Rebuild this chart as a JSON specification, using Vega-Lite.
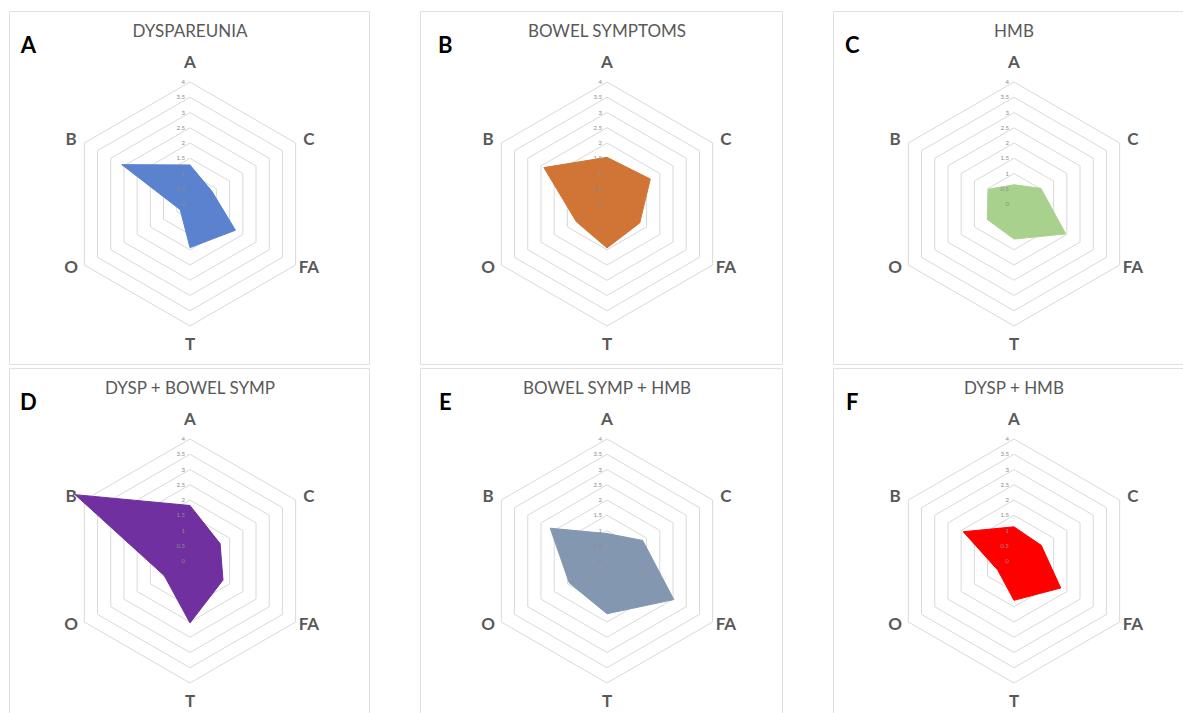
{
  "$schema": "https://vega.github.io/schema/vega-lite/v6.json",
  "padding": {"left": 8, "top": 10, "right": 0, "bottom": 0},
  "background": "white",
  "config": {"view": {"stroke": "#e0e0e0", "strokeWidth": 1}},
  "datasets": {
    "panels": [
      {"panel": "A", "title": "DYSPAREUNIA"},
      {"panel": "B", "title": "BOWEL SYMPTOMS"},
      {"panel": "C", "title": "HMB"},
      {"panel": "D", "title": "DYSP + BOWEL SYMP"},
      {"panel": "E", "title": "BOWEL SYMP + HMB"},
      {"panel": "F", "title": "DYSP + HMB"}
    ],
    "axes": [{"axis": "A"}, {"axis": "C"}, {"axis": "FA"}, {"axis": "T"}, {"axis": "O"}, {"axis": "B"}],
    "rings": [
      {"axis": "A", "levels": [0.5, 1, 1.5, 2, 2.5, 3, 3.5, 4]},
      {"axis": "C", "levels": [0.5, 1, 1.5, 2, 2.5, 3, 3.5, 4]},
      {"axis": "FA", "levels": [0.5, 1, 1.5, 2, 2.5, 3, 3.5, 4]},
      {"axis": "T", "levels": [0.5, 1, 1.5, 2, 2.5, 3, 3.5, 4]},
      {"axis": "O", "levels": [0.5, 1, 1.5, 2, 2.5, 3, 3.5, 4]},
      {"axis": "B", "levels": [0.5, 1, 1.5, 2, 2.5, 3, 3.5, 4]}
    ],
    "ticks": [{"t": "0", "v": 0}, {"t": "0.5", "v": 0.5}, {"t": "1", "v": 1}, {"t": "1.5", "v": 1.5}, {"t": "2", "v": 2}, {"t": "2.5", "v": 2.5}, {"t": "3", "v": 3}, {"t": "3.5", "v": 3.5}, {"t": "4", "v": 4}],
    "scores": [
      {"panel": "A", "axis": "A", "value": 1.28},
      {"panel": "A", "axis": "C", "value": 0.83},
      {"panel": "A", "axis": "FA", "value": 1.72},
      {"panel": "A", "axis": "T", "value": 1.43},
      {"panel": "A", "axis": "O", "value": 0.37},
      {"panel": "A", "axis": "B", "value": 2.58},
      {"panel": "B", "axis": "A", "value": 1.53},
      {"panel": "B", "axis": "C", "value": 1.64},
      {"panel": "B", "axis": "FA", "value": 1.24},
      {"panel": "B", "axis": "T", "value": 1.44},
      {"panel": "B", "axis": "O", "value": 1.16},
      {"panel": "B", "axis": "B", "value": 2.39},
      {"panel": "C", "axis": "A", "value": 0.63},
      {"panel": "C", "axis": "C", "value": 1.02},
      {"panel": "C", "axis": "FA", "value": 1.96},
      {"panel": "C", "axis": "T", "value": 1.15},
      {"panel": "C", "axis": "O", "value": 1.01},
      {"panel": "C", "axis": "B", "value": 0.97},
      {"panel": "D", "axis": "A", "value": 1.82},
      {"panel": "D", "axis": "C", "value": 1.14},
      {"panel": "D", "axis": "FA", "value": 1.25},
      {"panel": "D", "axis": "T", "value": 2.03},
      {"panel": "D", "axis": "O", "value": 0.97},
      {"panel": "D", "axis": "B", "value": 4.35},
      {"panel": "E", "axis": "A", "value": 0.9},
      {"panel": "E", "axis": "C", "value": 1.35},
      {"panel": "E", "axis": "FA", "value": 2.53},
      {"panel": "E", "axis": "T", "value": 1.73},
      {"panel": "E", "axis": "O", "value": 1.43},
      {"panel": "E", "axis": "B", "value": 2.15},
      {"panel": "F", "axis": "A", "value": 1.12},
      {"panel": "F", "axis": "C", "value": 1.03},
      {"panel": "F", "axis": "FA", "value": 1.77},
      {"panel": "F", "axis": "T", "value": 1.29},
      {"panel": "F", "axis": "O", "value": 0.61},
      {"panel": "F", "axis": "B", "value": 1.92}
    ]
  },
  "columns": 3,
  "spacing": {"row": 2, "column": 49},
  "concat": [
    {
      "width": 360, "height": 353,
      "encoding": {
        "x": {"field": "x", "type": "quantitative", "scale": {"domain": [-5.934, 5.869], "nice": false, "zero": false}, "axis": null},
        "y": {"field": "y", "type": "quantitative", "scale": {"domain": [-5.246, 6.328], "nice": false, "zero": false}, "axis": null}
      },
      "layer": [
        {"data": {"name": "rings"}, "transform": [{"flatten": ["levels"], "as": ["level"]}, {"calculate": "indexof(['A','C','FA','T','O','B'], datum.axis)*PI/3", "as": "ang"}, {"calculate": "datum.level*sin(datum.ang)", "as": "x"}, {"calculate": "datum.level*cos(datum.ang)", "as": "y"}],
         "mark": {"type": "line", "interpolate": "linear-closed", "stroke": "#d9d9d9", "strokeWidth": 1},
         "encoding": {"detail": {"field": "level", "type": "nominal"}, "order": {"field": "ang", "type": "quantitative"}}},
        {"data": {"name": "scores"}, "transform": [{"filter": "datum.panel === 'A'"}, {"calculate": "indexof(['A','C','FA','T','O','B'], datum.axis)*PI/3", "as": "ang"}, {"calculate": "datum.value*sin(datum.ang)", "as": "x"}, {"calculate": "datum.value*cos(datum.ang)", "as": "y"}],
         "mark": {"type": "line", "interpolate": "linear-closed", "fill": "#5a82cf", "stroke": "#5a82cf", "strokeWidth": 1},
         "encoding": {"order": {"field": "ang", "type": "quantitative"}}},
        {"data": {"name": "ticks"}, "transform": [{"calculate": "0", "as": "x"}, {"calculate": "datum.v", "as": "y"}],
         "mark": {"type": "text", "align": "right", "baseline": "middle", "dx": -5, "fontSize": 6, "font": "Lato", "color": "#8c8c8c"},
         "encoding": {"text": {"field": "t", "type": "nominal"}}},
        {"data": {"name": "axes"}, "transform": [{"calculate": "indexof(['A','C','FA','T','O','B'], datum.axis)*PI/3", "as": "ang"}, {"calculate": "4.5*sin(datum.ang)", "as": "x"}, {"calculate": "cos(datum.ang)*(abs(cos(datum.ang))>0.9?4.63:4.2)", "as": "y"}],
         "mark": {"type": "text", "font": "Lato", "fontWeight": "bold", "fontSize": 17, "color": "#595959", "baseline": "middle", "align": "center"},
         "encoding": {"text": {"field": "axis", "type": "nominal"}}},
        {"data": {"name": "panels"}, "transform": [{"filter": "datum.panel === 'A'"}, {"calculate": "0", "as": "x"}, {"calculate": "5.65", "as": "y"}],
         "mark": {"type": "text", "font": "Lato", "fontSize": 17, "color": "#595959", "baseline": "middle", "align": "center"},
         "encoding": {"text": {"field": "title", "type": "nominal"}}},
        {"data": {"name": "panels"}, "transform": [{"filter": "datum.panel === 'A'"}, {"calculate": "-5.3", "as": "x"}, {"calculate": "5.18", "as": "y"}],
         "mark": {"type": "text", "font": "Lato", "fontWeight": "bold", "fontSize": 22, "color": "#000000", "baseline": "middle", "align": "center"},
         "encoding": {"text": {"field": "panel", "type": "nominal"}}}
      ]
    },
    {
      "width": 362, "height": 353,
      "encoding": {
        "x": {"field": "x", "type": "quantitative", "scale": {"domain": [-6.131, 5.738], "nice": false, "zero": false}, "axis": null},
        "y": {"field": "y", "type": "quantitative", "scale": {"domain": [-5.246, 6.328], "nice": false, "zero": false}, "axis": null}
      },
      "layer": [
        {"data": {"name": "rings"}, "transform": [{"flatten": ["levels"], "as": ["level"]}, {"calculate": "indexof(['A','C','FA','T','O','B'], datum.axis)*PI/3", "as": "ang"}, {"calculate": "datum.level*sin(datum.ang)", "as": "x"}, {"calculate": "datum.level*cos(datum.ang)", "as": "y"}],
         "mark": {"type": "line", "interpolate": "linear-closed", "stroke": "#d9d9d9", "strokeWidth": 1},
         "encoding": {"detail": {"field": "level", "type": "nominal"}, "order": {"field": "ang", "type": "quantitative"}}},
        {"data": {"name": "scores"}, "transform": [{"filter": "datum.panel === 'B'"}, {"calculate": "indexof(['A','C','FA','T','O','B'], datum.axis)*PI/3", "as": "ang"}, {"calculate": "datum.value*sin(datum.ang)", "as": "x"}, {"calculate": "datum.value*cos(datum.ang)", "as": "y"}],
         "mark": {"type": "line", "interpolate": "linear-closed", "fill": "#d07536", "stroke": "#d07536", "strokeWidth": 1},
         "encoding": {"order": {"field": "ang", "type": "quantitative"}}},
        {"data": {"name": "ticks"}, "transform": [{"calculate": "0", "as": "x"}, {"calculate": "datum.v", "as": "y"}],
         "mark": {"type": "text", "align": "right", "baseline": "middle", "dx": -5, "fontSize": 6, "font": "Lato", "color": "#8c8c8c"},
         "encoding": {"text": {"field": "t", "type": "nominal"}}},
        {"data": {"name": "axes"}, "transform": [{"calculate": "indexof(['A','C','FA','T','O','B'], datum.axis)*PI/3", "as": "ang"}, {"calculate": "4.5*sin(datum.ang)", "as": "x"}, {"calculate": "cos(datum.ang)*(abs(cos(datum.ang))>0.9?4.63:4.2)", "as": "y"}],
         "mark": {"type": "text", "font": "Lato", "fontWeight": "bold", "fontSize": 17, "color": "#595959", "baseline": "middle", "align": "center"},
         "encoding": {"text": {"field": "axis", "type": "nominal"}}},
        {"data": {"name": "panels"}, "transform": [{"filter": "datum.panel === 'B'"}, {"calculate": "0", "as": "x"}, {"calculate": "5.65", "as": "y"}],
         "mark": {"type": "text", "font": "Lato", "fontSize": 17, "color": "#595959", "baseline": "middle", "align": "center"},
         "encoding": {"text": {"field": "title", "type": "nominal"}}},
        {"data": {"name": "panels"}, "transform": [{"filter": "datum.panel === 'B'"}, {"calculate": "-5.3", "as": "x"}, {"calculate": "5.18", "as": "y"}],
         "mark": {"type": "text", "font": "Lato", "fontWeight": "bold", "fontSize": 22, "color": "#000000", "baseline": "middle", "align": "center"},
         "encoding": {"text": {"field": "panel", "type": "nominal"}}}
      ]
    },
    {
      "width": 360, "height": 353,
      "encoding": {
        "x": {"field": "x", "type": "quantitative", "scale": {"domain": [-5.934, 5.869], "nice": false, "zero": false}, "axis": null},
        "y": {"field": "y", "type": "quantitative", "scale": {"domain": [-5.246, 6.328], "nice": false, "zero": false}, "axis": null}
      },
      "layer": [
        {"data": {"name": "rings"}, "transform": [{"flatten": ["levels"], "as": ["level"]}, {"calculate": "indexof(['A','C','FA','T','O','B'], datum.axis)*PI/3", "as": "ang"}, {"calculate": "datum.level*sin(datum.ang)", "as": "x"}, {"calculate": "datum.level*cos(datum.ang)", "as": "y"}],
         "mark": {"type": "line", "interpolate": "linear-closed", "stroke": "#d9d9d9", "strokeWidth": 1},
         "encoding": {"detail": {"field": "level", "type": "nominal"}, "order": {"field": "ang", "type": "quantitative"}}},
        {"data": {"name": "scores"}, "transform": [{"filter": "datum.panel === 'C'"}, {"calculate": "indexof(['A','C','FA','T','O','B'], datum.axis)*PI/3", "as": "ang"}, {"calculate": "datum.value*sin(datum.ang)", "as": "x"}, {"calculate": "datum.value*cos(datum.ang)", "as": "y"}],
         "mark": {"type": "line", "interpolate": "linear-closed", "fill": "#a9d18e", "stroke": "#a9d18e", "strokeWidth": 1},
         "encoding": {"order": {"field": "ang", "type": "quantitative"}}},
        {"data": {"name": "ticks"}, "transform": [{"calculate": "0", "as": "x"}, {"calculate": "datum.v", "as": "y"}],
         "mark": {"type": "text", "align": "right", "baseline": "middle", "dx": -5, "fontSize": 6, "font": "Lato", "color": "#8c8c8c"},
         "encoding": {"text": {"field": "t", "type": "nominal"}}},
        {"data": {"name": "axes"}, "transform": [{"calculate": "indexof(['A','C','FA','T','O','B'], datum.axis)*PI/3", "as": "ang"}, {"calculate": "4.5*sin(datum.ang)", "as": "x"}, {"calculate": "cos(datum.ang)*(abs(cos(datum.ang))>0.9?4.63:4.2)", "as": "y"}],
         "mark": {"type": "text", "font": "Lato", "fontWeight": "bold", "fontSize": 17, "color": "#595959", "baseline": "middle", "align": "center"},
         "encoding": {"text": {"field": "axis", "type": "nominal"}}},
        {"data": {"name": "panels"}, "transform": [{"filter": "datum.panel === 'C'"}, {"calculate": "0", "as": "x"}, {"calculate": "5.65", "as": "y"}],
         "mark": {"type": "text", "font": "Lato", "fontSize": 17, "color": "#595959", "baseline": "middle", "align": "center"},
         "encoding": {"text": {"field": "title", "type": "nominal"}}},
        {"data": {"name": "panels"}, "transform": [{"filter": "datum.panel === 'C'"}, {"calculate": "-5.3", "as": "x"}, {"calculate": "5.18", "as": "y"}],
         "mark": {"type": "text", "font": "Lato", "fontWeight": "bold", "fontSize": 22, "color": "#000000", "baseline": "middle", "align": "center"},
         "encoding": {"text": {"field": "panel", "type": "nominal"}}}
      ]
    },
    {
      "width": 360, "height": 353,
      "encoding": {
        "x": {"field": "x", "type": "quantitative", "scale": {"domain": [-5.934, 5.869], "nice": false, "zero": false}, "axis": null},
        "y": {"field": "y", "type": "quantitative", "scale": {"domain": [-5.246, 6.328], "nice": false, "zero": false}, "axis": null}
      },
      "layer": [
        {"data": {"name": "rings"}, "transform": [{"flatten": ["levels"], "as": ["level"]}, {"calculate": "indexof(['A','C','FA','T','O','B'], datum.axis)*PI/3", "as": "ang"}, {"calculate": "datum.level*sin(datum.ang)", "as": "x"}, {"calculate": "datum.level*cos(datum.ang)", "as": "y"}],
         "mark": {"type": "line", "interpolate": "linear-closed", "stroke": "#d9d9d9", "strokeWidth": 1},
         "encoding": {"detail": {"field": "level", "type": "nominal"}, "order": {"field": "ang", "type": "quantitative"}}},
        {"data": {"name": "scores"}, "transform": [{"filter": "datum.panel === 'D'"}, {"calculate": "indexof(['A','C','FA','T','O','B'], datum.axis)*PI/3", "as": "ang"}, {"calculate": "datum.value*sin(datum.ang)", "as": "x"}, {"calculate": "datum.value*cos(datum.ang)", "as": "y"}],
         "mark": {"type": "line", "interpolate": "linear-closed", "fill": "#7030a0", "stroke": "#7030a0", "strokeWidth": 1},
         "encoding": {"order": {"field": "ang", "type": "quantitative"}}},
        {"data": {"name": "ticks"}, "transform": [{"calculate": "0", "as": "x"}, {"calculate": "datum.v", "as": "y"}],
         "mark": {"type": "text", "align": "right", "baseline": "middle", "dx": -5, "fontSize": 6, "font": "Lato", "color": "#8c8c8c"},
         "encoding": {"text": {"field": "t", "type": "nominal"}}},
        {"data": {"name": "axes"}, "transform": [{"calculate": "indexof(['A','C','FA','T','O','B'], datum.axis)*PI/3", "as": "ang"}, {"calculate": "4.5*sin(datum.ang)", "as": "x"}, {"calculate": "cos(datum.ang)*(abs(cos(datum.ang))>0.9?4.63:4.2)", "as": "y"}],
         "mark": {"type": "text", "font": "Lato", "fontWeight": "bold", "fontSize": 17, "color": "#595959", "baseline": "middle", "align": "center"},
         "encoding": {"text": {"field": "axis", "type": "nominal"}}},
        {"data": {"name": "panels"}, "transform": [{"filter": "datum.panel === 'D'"}, {"calculate": "0", "as": "x"}, {"calculate": "5.65", "as": "y"}],
         "mark": {"type": "text", "font": "Lato", "fontSize": 17, "color": "#595959", "baseline": "middle", "align": "center"},
         "encoding": {"text": {"field": "title", "type": "nominal"}}},
        {"data": {"name": "panels"}, "transform": [{"filter": "datum.panel === 'D'"}, {"calculate": "-5.3", "as": "x"}, {"calculate": "5.18", "as": "y"}],
         "mark": {"type": "text", "font": "Lato", "fontWeight": "bold", "fontSize": 22, "color": "#000000", "baseline": "middle", "align": "center"},
         "encoding": {"text": {"field": "panel", "type": "nominal"}}}
      ]
    },
    {
      "width": 362, "height": 353,
      "encoding": {
        "x": {"field": "x", "type": "quantitative", "scale": {"domain": [-6.131, 5.738], "nice": false, "zero": false}, "axis": null},
        "y": {"field": "y", "type": "quantitative", "scale": {"domain": [-5.246, 6.328], "nice": false, "zero": false}, "axis": null}
      },
      "layer": [
        {"data": {"name": "rings"}, "transform": [{"flatten": ["levels"], "as": ["level"]}, {"calculate": "indexof(['A','C','FA','T','O','B'], datum.axis)*PI/3", "as": "ang"}, {"calculate": "datum.level*sin(datum.ang)", "as": "x"}, {"calculate": "datum.level*cos(datum.ang)", "as": "y"}],
         "mark": {"type": "line", "interpolate": "linear-closed", "stroke": "#d9d9d9", "strokeWidth": 1},
         "encoding": {"detail": {"field": "level", "type": "nominal"}, "order": {"field": "ang", "type": "quantitative"}}},
        {"data": {"name": "scores"}, "transform": [{"filter": "datum.panel === 'E'"}, {"calculate": "indexof(['A','C','FA','T','O','B'], datum.axis)*PI/3", "as": "ang"}, {"calculate": "datum.value*sin(datum.ang)", "as": "x"}, {"calculate": "datum.value*cos(datum.ang)", "as": "y"}],
         "mark": {"type": "line", "interpolate": "linear-closed", "fill": "#8497b0", "stroke": "#8497b0", "strokeWidth": 1},
         "encoding": {"order": {"field": "ang", "type": "quantitative"}}},
        {"data": {"name": "ticks"}, "transform": [{"calculate": "0", "as": "x"}, {"calculate": "datum.v", "as": "y"}],
         "mark": {"type": "text", "align": "right", "baseline": "middle", "dx": -5, "fontSize": 6, "font": "Lato", "color": "#8c8c8c"},
         "encoding": {"text": {"field": "t", "type": "nominal"}}},
        {"data": {"name": "axes"}, "transform": [{"calculate": "indexof(['A','C','FA','T','O','B'], datum.axis)*PI/3", "as": "ang"}, {"calculate": "4.5*sin(datum.ang)", "as": "x"}, {"calculate": "cos(datum.ang)*(abs(cos(datum.ang))>0.9?4.63:4.2)", "as": "y"}],
         "mark": {"type": "text", "font": "Lato", "fontWeight": "bold", "fontSize": 17, "color": "#595959", "baseline": "middle", "align": "center"},
         "encoding": {"text": {"field": "axis", "type": "nominal"}}},
        {"data": {"name": "panels"}, "transform": [{"filter": "datum.panel === 'E'"}, {"calculate": "0", "as": "x"}, {"calculate": "5.65", "as": "y"}],
         "mark": {"type": "text", "font": "Lato", "fontSize": 17, "color": "#595959", "baseline": "middle", "align": "center"},
         "encoding": {"text": {"field": "title", "type": "nominal"}}},
        {"data": {"name": "panels"}, "transform": [{"filter": "datum.panel === 'E'"}, {"calculate": "-5.3", "as": "x"}, {"calculate": "5.18", "as": "y"}],
         "mark": {"type": "text", "font": "Lato", "fontWeight": "bold", "fontSize": 22, "color": "#000000", "baseline": "middle", "align": "center"},
         "encoding": {"text": {"field": "panel", "type": "nominal"}}}
      ]
    },
    {
      "width": 360, "height": 353,
      "encoding": {
        "x": {"field": "x", "type": "quantitative", "scale": {"domain": [-5.934, 5.869], "nice": false, "zero": false}, "axis": null},
        "y": {"field": "y", "type": "quantitative", "scale": {"domain": [-5.246, 6.328], "nice": false, "zero": false}, "axis": null}
      },
      "layer": [
        {"data": {"name": "rings"}, "transform": [{"flatten": ["levels"], "as": ["level"]}, {"calculate": "indexof(['A','C','FA','T','O','B'], datum.axis)*PI/3", "as": "ang"}, {"calculate": "datum.level*sin(datum.ang)", "as": "x"}, {"calculate": "datum.level*cos(datum.ang)", "as": "y"}],
         "mark": {"type": "line", "interpolate": "linear-closed", "stroke": "#d9d9d9", "strokeWidth": 1},
         "encoding": {"detail": {"field": "level", "type": "nominal"}, "order": {"field": "ang", "type": "quantitative"}}},
        {"data": {"name": "scores"}, "transform": [{"filter": "datum.panel === 'F'"}, {"calculate": "indexof(['A','C','FA','T','O','B'], datum.axis)*PI/3", "as": "ang"}, {"calculate": "datum.value*sin(datum.ang)", "as": "x"}, {"calculate": "datum.value*cos(datum.ang)", "as": "y"}],
         "mark": {"type": "line", "interpolate": "linear-closed", "fill": "#ff0000", "stroke": "#ff0000", "strokeWidth": 1},
         "encoding": {"order": {"field": "ang", "type": "quantitative"}}},
        {"data": {"name": "ticks"}, "transform": [{"calculate": "0", "as": "x"}, {"calculate": "datum.v", "as": "y"}],
         "mark": {"type": "text", "align": "right", "baseline": "middle", "dx": -5, "fontSize": 6, "font": "Lato", "color": "#8c8c8c"},
         "encoding": {"text": {"field": "t", "type": "nominal"}}},
        {"data": {"name": "axes"}, "transform": [{"calculate": "indexof(['A','C','FA','T','O','B'], datum.axis)*PI/3", "as": "ang"}, {"calculate": "4.5*sin(datum.ang)", "as": "x"}, {"calculate": "cos(datum.ang)*(abs(cos(datum.ang))>0.9?4.63:4.2)", "as": "y"}],
         "mark": {"type": "text", "font": "Lato", "fontWeight": "bold", "fontSize": 17, "color": "#595959", "baseline": "middle", "align": "center"},
         "encoding": {"text": {"field": "axis", "type": "nominal"}}},
        {"data": {"name": "panels"}, "transform": [{"filter": "datum.panel === 'F'"}, {"calculate": "0", "as": "x"}, {"calculate": "5.65", "as": "y"}],
         "mark": {"type": "text", "font": "Lato", "fontSize": 17, "color": "#595959", "baseline": "middle", "align": "center"},
         "encoding": {"text": {"field": "title", "type": "nominal"}}},
        {"data": {"name": "panels"}, "transform": [{"filter": "datum.panel === 'F'"}, {"calculate": "-5.3", "as": "x"}, {"calculate": "5.18", "as": "y"}],
         "mark": {"type": "text", "font": "Lato", "fontWeight": "bold", "fontSize": 22, "color": "#000000", "baseline": "middle", "align": "center"},
         "encoding": {"text": {"field": "panel", "type": "nominal"}}}
      ]
    }
  ]
}
